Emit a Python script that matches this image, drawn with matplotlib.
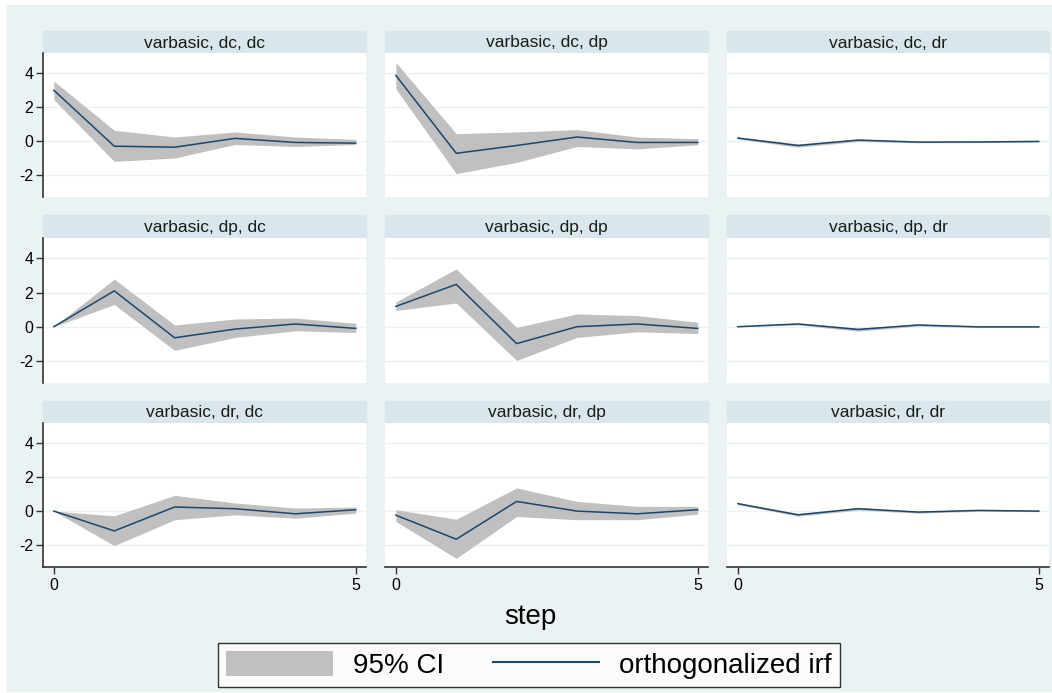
import matplotlib
matplotlib.use("Agg")
import matplotlib.pyplot as plt
from matplotlib import patches
from matplotlib.lines import Line2D

plt.rcParams['font.family'] = ['Liberation Sans', 'DejaVu Sans']
plt.rcParams['axes.unicode_minus'] = False

W, H = 1052, 693

steps = [0, 1, 2, 3, 4, 5]

# impulse dc
irf_dc_dc = [3.0, -0.3, -0.36, 0.16, -0.08, -0.12]
lo_dc_dc = [2.44, -1.2, -1.0, -0.2, -0.32, -0.2]
hi_dc_dc = [3.54, 0.64, 0.24, 0.54, 0.24, 0.1]

irf_dc_dp = [3.88, -0.72, -0.26, 0.24, -0.08, -0.08]
lo_dc_dp = [3.08, -1.92, -1.26, -0.32, -0.46, -0.22]
hi_dc_dp = [4.64, 0.44, 0.54, 0.68, 0.24, 0.14]

irf_dc_dr = [0.18, -0.26, 0.06, -0.06, -0.05, -0.02]
lo_dc_dr = [0.12, -0.36, -0.02, -0.1, -0.09, -0.05]
hi_dc_dr = [0.24, -0.16, 0.12, -0.01, -0.01, 0.01]

# impulse dp
irf_dp_dc = [0.0, 2.1, -0.65, -0.14, 0.16, -0.1]
lo_dp_dc = [0.0, 1.3, -1.39, -0.63, -0.24, -0.34]
hi_dp_dc = [0.0, 2.79, 0.1, 0.45, 0.51, 0.2]

irf_dp_dp = [1.19, 2.48, -0.99, 0.0, 0.16, -0.1]
lo_dp_dp = [0.95, 1.39, -1.98, -0.63, -0.3, -0.4]
hi_dp_dp = [1.45, 3.39, -0.04, 0.75, 0.65, 0.26]

irf_dp_dr = [0.0, 0.16, -0.16, 0.1, -0.01, -0.01]
lo_dp_dr = [0.0, 0.1, -0.26, 0.04, -0.05, -0.03]
hi_dp_dr = [0.0, 0.22, -0.08, 0.16, 0.03, 0.01]

# impulse dr
irf_dr_dc = [0.0, -1.17, 0.24, 0.14, -0.16, 0.08]
lo_dr_dc = [0.0, -2.04, -0.51, -0.22, -0.42, -0.12]
hi_dr_dc = [0.0, -0.28, 0.93, 0.48, 0.18, 0.24]

irf_dr_dp = [-0.24, -1.66, 0.57, 0.0, -0.16, 0.08]
lo_dr_dp = [-0.61, -2.79, -0.32, -0.51, -0.51, -0.18]
hi_dr_dp = [0.08, -0.48, 1.37, 0.57, 0.28, 0.28]

irf_dr_dr = [0.44, -0.22, 0.14, -0.06, 0.04, 0.0]
lo_dr_dr = [0.38, -0.3, 0.06, -0.12, -0.01, -0.03]
hi_dr_dr = [0.5, -0.14, 0.22, 0.0, 0.08, 0.03]

titles = [["varbasic, dc, dc", "varbasic, dc, dp", "varbasic, dc, dr"],
          ["varbasic, dp, dc", "varbasic, dp, dp", "varbasic, dp, dr"],
          ["varbasic, dr, dc", "varbasic, dr, dp", "varbasic, dr, dr"]]
irfs = [[irf_dc_dc, irf_dc_dp, irf_dc_dr],
        [irf_dp_dc, irf_dp_dp, irf_dp_dr],
        [irf_dr_dc, irf_dr_dp, irf_dr_dr]]
lows = [[lo_dc_dc, lo_dc_dp, lo_dc_dr],
        [lo_dp_dc, lo_dp_dp, lo_dp_dr],
        [lo_dr_dc, lo_dr_dp, lo_dr_dr]]
highs = [[hi_dc_dc, hi_dc_dp, hi_dc_dr],
         [hi_dp_dc, hi_dp_dp, hi_dp_dr],
         [hi_dr_dc, hi_dr_dp, hi_dr_dr]]

yticks = [-2, 0, 2, 4]
xticks = [0, 5]

bg = '#EAF2F3'
strip = '#D9E6EB'
band = '#C0C0C0'
navy = '#1A476F'


def fx(px):
    return px / W


def fy(py):
    return 1 - py / H


fig = plt.figure(figsize=(W / 100, H / 100), dpi=100)
fig.patch.set_facecolor('white')
fig.patches.append(patches.Rectangle((fx(7), fy(691)), fx(1045), (691 - 5) / H,
                                     transform=fig.transFigure, color=bg, zorder=-5))

cols = [(43, 366), (385, 708), (727, 1049)]
rows = [(31, 53, 197), (215, 238, 383), (401, 423, 567)]

for r in range(3):
    for c in range(3):
        x0, x1 = cols[c]
        ht, pt, pb = rows[r]
        # header strip
        fig.patches.append(patches.Rectangle((fx(x0), fy(pt)), fx(x1 - x0), (pt - ht) / H,
                                             transform=fig.transFigure, color=strip, zorder=-4))
        fig.text(fx((x0 + x1) / 2), fy((ht + pt) / 2 + 1), titles[r][c], ha='center', va='center',
                 fontsize=12.5, color='#1a1a1a')

        ax = fig.add_axes([fx(x0), fy(pb), fx(x1 - x0), (pb - pt) / H])
        ax.set_zorder(2)
        ax.set_facecolor('white')
        ax.fill_between(steps, lows[r][c], highs[r][c], color=band, linewidth=0, zorder=2)
        ax.plot(steps, irfs[r][c], color=navy, linewidth=1.1, zorder=3)
        ax.set_xlim(-0.18, 5.17)
        ax.set_ylim(-3.3, 5.2)
        ax.set_yticks(yticks)
        ax.set_xticks(xticks)
        for yv in yticks:
            ax.axhline(yv, color=bg, linewidth=1.0, zorder=1)
        for s in ['top', 'right']:
            ax.spines[s].set_visible(False)
        ax.spines['left'].set_visible(c == 0)
        ax.spines['bottom'].set_visible(r == 2)
        ax.spines['left'].set_color('#333333')
        ax.spines['bottom'].set_color('#333333')
        ax.spines['left'].set_linewidth(1.2)
        ax.spines['bottom'].set_linewidth(1.2)
        ax.tick_params(axis='y', left=(c == 0), labelleft=(c == 0), length=5,
                       width=1, color='#333333', labelsize=11.5, pad=2)
        ax.tick_params(axis='x', bottom=(r == 2), labelbottom=(r == 2), length=5,
                       width=1, color='#333333', labelsize=11.5, pad=3)

fig.text(fx(530), fy(617), 'step', ha='center', va='center', fontsize=20)

handles = [patches.Patch(facecolor=band, edgecolor='none', label='95% CI'),
           Line2D([0], [0], color=navy, linewidth=1.5, label='orthogonalized irf')]
leg = fig.legend(handles=handles, loc='center', bbox_to_anchor=(fx(529), fy(665)),
                 ncol=2, fontsize=20, frameon=True, fancybox=False, edgecolor='black',
                 handlelength=3.85, handleheight=1.0, columnspacing=1.75, handletextpad=0.7,
                 borderpad=0.3)
leg.get_frame().set_linewidth(1.0)

fig.savefig('out.png', dpi=100)
